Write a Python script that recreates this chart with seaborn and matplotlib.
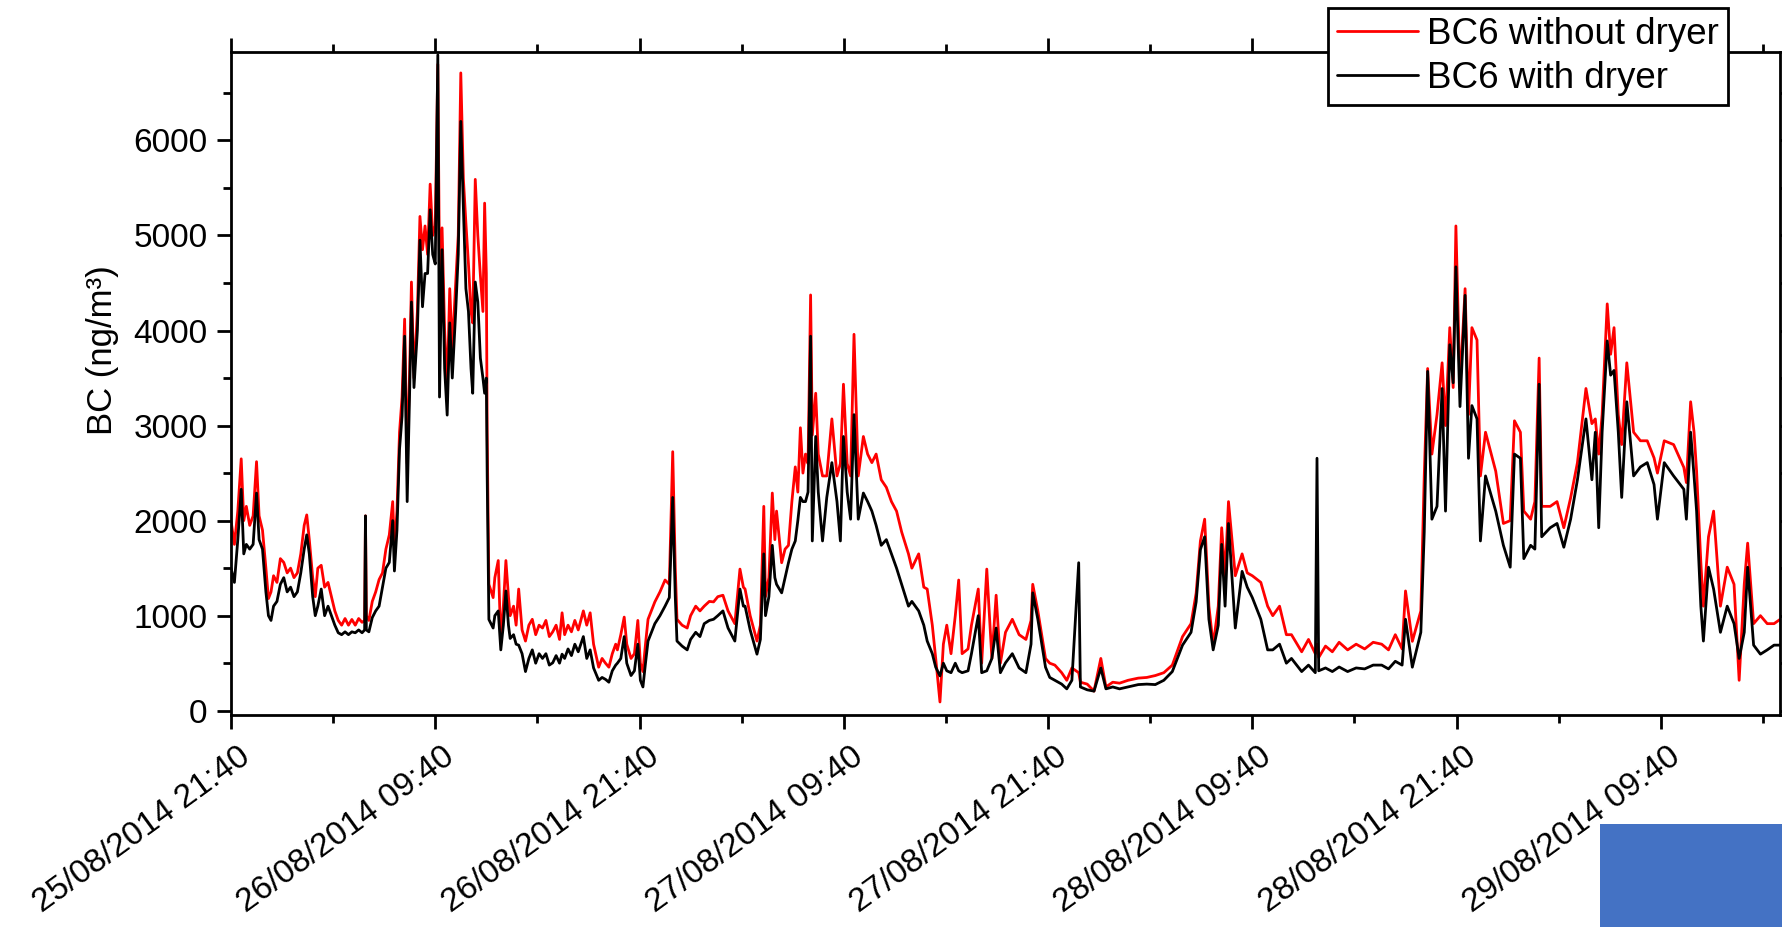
import numpy as np
import pandas as pd
import matplotlib
matplotlib.use("Agg")
import matplotlib.pyplot as plt
import matplotlib.dates as mdates
import matplotlib.transforms as mtransforms
from matplotlib.patches import Rectangle
from matplotlib.lines import Line2D
from matplotlib.ticker import MultipleLocator, FixedLocator, FixedFormatter
import seaborn as sns

# ---------------- data ----------------
start_time = "2014-08-25 21:40"

hours = [
    0.0, 0.2, 0.4, 0.6, 0.75, 0.9, 1.1, 1.3, 1.5, 1.65, 1.85, 2.05, 2.2, 2.35, 2.5, 2.7, 2.9, 3.1, 3.3, 3.5,
    3.7, 3.9, 4.1, 4.3, 4.45, 4.6, 4.8, 4.95, 5.1, 5.3, 5.5, 5.7, 5.9, 6.1, 6.3, 6.5, 6.7, 6.9, 7.1, 7.3,
    7.5, 7.7, 7.85, 7.9, 7.95, 8.1, 8.3, 8.5, 8.7, 8.9, 9.1, 9.3, 9.5, 9.6, 9.75, 9.9, 10.05, 10.2, 10.35, 10.5,
    10.6, 10.75, 10.95, 11.1, 11.25, 11.4, 11.55, 11.7, 11.85, 12.0, 12.15, 12.25, 12.4, 12.55, 12.7, 12.85, 13.0, 13.2, 13.35, 13.5,
    13.65, 13.8, 13.95, 14.1, 14.2, 14.35, 14.5, 14.65, 14.8, 14.9, 15.0, 15.05, 15.15,
    15.4, 15.5, 15.7, 15.85, 16.0, 16.15, 16.3, 16.4, 16.6, 16.75, 16.9, 17.1, 17.3, 17.5, 17.7, 17.9, 18.1, 18.3, 18.5, 18.7,
    18.9, 19.1, 19.3, 19.45, 19.6, 19.8, 20.0, 20.2, 20.4, 20.7, 20.9, 21.1, 21.3, 21.6, 21.8, 22.0, 22.2, 22.4, 22.6, 22.7,
    22.9, 23.1, 23.25, 23.5, 23.7, 23.9, 24.05, 24.2, 24.35, 24.5, 24.9, 25.2, 25.5, 25.75, 25.95, 26.1, 26.2, 26.5, 26.8, 27.0,
    27.3, 27.55, 27.8, 28.1, 28.35, 28.6, 28.9, 29.2, 29.6, 29.9, 30.1,
    30.2, 30.5, 30.9, 31.1, 31.3, 31.4, 31.6, 31.8, 31.95, 32.05, 32.35, 32.55, 32.75, 32.95, 33.15, 33.3, 33.45, 33.6, 33.75, 33.9,
    34.05, 34.15, 34.35, 34.5, 34.75, 35.0, 35.3, 35.6, 35.8, 35.98, 36.2, 36.4, 36.6, 36.85, 37.15, 37.4, 37.65, 37.9, 38.2, 38.5,
    38.8, 39.1, 39.4, 39.8, 40.0, 40.4, 40.7, 40.9, 41.2, 41.4, 41.65, 41.85, 42.05, 42.3, 42.55, 42.75, 42.95, 43.3, 43.5, 43.9,
    44.1, 44.4, 44.7, 44.95, 45.2,
    45.5, 45.9, 46.3, 46.7, 47.0, 47.1, 47.4, 47.85, 48.1, 48.4, 48.8, 49.1, 49.4, 49.8, 49.9, 50.3, 50.7, 51.1, 51.4, 51.8,
    52.2, 52.7, 53.3, 53.8, 54.3, 54.8, 55.3, 55.9, 56.4, 56.7, 56.95, 57.2, 57.45, 57.7, 58.0, 58.2, 58.4, 58.6, 59.0, 59.4,
    59.7, 60.0, 60.5, 60.9,
    61.2, 61.6, 62.0, 62.3, 62.9, 63.3, 63.7, 63.8, 63.9, 64.3, 64.7, 65.1, 65.6, 66.1, 66.6, 67.1, 67.6, 68.0, 68.4, 68.8,
    69.0, 69.4, 69.9, 70.1, 70.3, 70.55, 70.85, 71.15, 71.35, 71.6, 71.8, 71.96, 72.2, 72.5, 72.7, 72.9, 73.2, 73.4, 73.7, 74.3,
    74.75, 75.15, 75.4, 75.75,
    75.95, 76.35, 76.6, 76.85, 77.0, 77.5, 77.9, 78.3, 78.7, 79.1, 79.6, 79.95, 80.15, 80.35, 80.55, 80.85, 81.05, 81.25, 81.5, 81.7,
    82.0, 82.4, 82.8, 83.2, 83.6, 83.8, 84.2, 84.75, 85.35, 85.5, 85.75, 85.95, 86.1, 86.35, 86.5, 86.8, 87.1, 87.5, 87.9, 88.3,
    88.6, 88.9, 89.1, 89.45, 89.85, 90.25, 90.65, 91.0,
]

bc6_without_dryer = [
    2000, 1750, 2100, 2650, 2000, 2150, 1950, 2050, 2620, 2050, 1900, 1500, 1180, 1250, 1420, 1350, 1600, 1560, 1450, 1500,
    1400, 1450, 1650, 1950, 2060, 1800, 1400, 1200, 1500, 1530, 1300, 1350, 1200, 1050, 950, 900, 970, 900, 960, 900,
    970, 930, 950, 2050, 1000, 950, 1150, 1250, 1380, 1450, 1700, 1850, 2200, 1700, 2100, 2930, 3300, 4120, 2600, 3600,
    4510, 3500, 4200, 5200, 4850, 5100, 4800, 5540, 5000, 5100, 6800, 4600, 5080, 4000, 3390, 4440, 3800, 4500, 5000, 6710,
    5600, 5130, 4700, 4200, 4080, 5590, 5000, 4580, 4200, 5340, 4600, 2930, 1330,
    1190, 1400, 1580, 730, 1100, 1580, 1200, 1000, 1100, 900, 1280, 850, 733, 900, 962, 800, 900, 870, 950, 780,
    830, 900, 750, 1030, 800, 900, 830, 950, 850, 1050, 900, 1030, 700, 458, 550, 500, 458, 600, 700, 640,
    800, 985, 700, 550, 600, 950, 500, 412, 700, 962, 1145, 1250, 1375, 1330, 2725, 1500, 962, 900, 870, 1000,
    1100, 1050, 1100, 1150, 1145, 1200, 1215, 1050, 916, 1490, 1300,
    1280, 1000, 733, 900, 2150, 1200, 1400, 2290, 1800, 2100, 1557, 1700, 1740, 2200, 2565, 2300, 2977, 2500, 2700, 2600,
    4374, 2900, 3340, 2700, 2470, 2470, 3070, 2470, 2600, 3435, 2600, 2470, 3960, 2470, 2885, 2700, 2610, 2700, 2430, 2350,
    2200, 2100, 1880, 1650, 1500, 1650, 1300, 1280, 900, 550, 92, 700, 900, 600, 1000, 1375, 600, 650, 900, 1280,
    500, 1490, 550, 1215, 500,
    825, 962, 800, 750, 950, 1330, 1050, 550, 500, 480, 400, 320, 450, 400, 300, 280, 206, 550, 250, 300,
    290, 320, 343, 350, 370, 400, 480, 780, 916, 1237, 1786, 2015, 1100, 690, 1100, 1925, 1420, 2200, 1420, 1650,
    1450, 1420, 1350, 1100,
    1000, 1100, 800, 800, 620, 750, 600, 700, 560, 680, 620, 720, 640, 700, 650, 720, 700, 640, 800, 650,
    1260, 730, 1050, 2470, 3600, 2700, 3115, 3660, 3000, 4030, 3400, 5100, 3400, 4440, 3115, 4030, 3900, 2470, 2930, 2520,
    1970, 2000, 3050, 2930,
    2100, 2015, 2200, 3710, 2150, 2150, 2200, 1925, 2240, 2610, 3390, 3020, 3070, 2700, 3115, 4280, 3750, 4030, 3115, 2800,
    3660, 2930, 2840, 2840, 2660, 2500, 2840, 2800, 2560, 2400, 3250, 2930, 2520, 1557, 1100, 1830, 2100, 1100, 1510, 1330,
    320, 1330, 1763, 916, 1000, 916, 916, 960,
]

bc6_with_dryer = [
    1500, 1350, 1800, 2330, 1650, 1750, 1700, 1750, 2290, 1800, 1700, 1250, 1000, 950, 1100, 1150, 1330, 1400, 1250, 1300,
    1200, 1250, 1450, 1700, 1850, 1650, 1200, 1000, 1100, 1280, 1000, 1100, 1000, 900, 820, 800, 830, 800, 830, 820,
    850, 820, 850, 2050, 850, 830, 980, 1050, 1100, 1300, 1500, 1560, 2000, 1470, 1900, 2750, 3100, 3940, 2200, 3400,
    4300, 3400, 4000, 4950, 4250, 4600, 4600, 5270, 4800, 4700, 6900, 3300, 4850, 3600, 3110, 4080, 3500, 4200, 4800, 6200,
    5300, 4440, 4200, 3600, 3340, 4510, 4300, 3710, 3500, 3340, 3500, 2470, 960,
    870, 1000, 1050, 640, 900, 1260, 900, 760, 800, 700, 690, 600, 412, 550, 640, 500, 600, 550, 600, 480,
    504, 580, 500, 595, 550, 650, 580, 700, 620, 780, 550, 640, 450, 320, 350, 330, 300, 420, 480, 500,
    550, 780, 500, 370, 420, 700, 320, 250, 500, 733, 916, 1000, 1100, 1190, 2244, 1200, 733, 680, 640, 750,
    825, 780, 916, 950, 962, 1000, 1050, 870, 733, 1280, 1100,
    1100, 850, 595, 750, 1650, 1000, 1200, 1740, 1400, 1330, 1240, 1400, 1557, 1700, 1786, 2000, 2244, 2200, 2200, 2300,
    3940, 1786, 2885, 2300, 1786, 2244, 2610, 2200, 1786, 2885, 2300, 2015, 3115, 2015, 2290, 2200, 2100, 1950, 1740, 1800,
    1650, 1500, 1330, 1100, 1150, 1050, 900, 733, 600, 458, 366, 500, 420, 400, 500, 420, 400, 420, 600, 1000,
    400, 420, 550, 870, 400,
    504, 600, 450, 400, 700, 1240, 962, 458, 350, 320, 280, 230, 320, 1557, 250, 220, 206, 450, 230, 250,
    230, 250, 275, 280, 275, 320, 412, 690, 825, 1145, 1695, 1830, 962, 640, 900, 1750, 1100, 1970, 870, 1466,
    1300, 1190, 962, 640,
    640, 700, 500, 550, 412, 480, 400, 2656, 420, 450, 412, 460, 412, 450, 440, 480, 480, 440, 520, 480,
    962, 458, 825, 1880, 3570, 2015, 2150, 3390, 2100, 3850, 3450, 4670, 3200, 4370, 2656, 3210, 3070, 1786, 2470, 2100,
    1740, 1510, 2700, 2656,
    1600, 1740, 1700, 3435, 1830, 1925, 1970, 1720, 2015, 2430, 3070, 2430, 2930, 1925, 2930, 3890, 3530, 3580, 2930, 2244,
    3250, 2470, 2565, 2610, 2380, 2015, 2610, 2470, 2330, 2015, 2930, 2470, 2100, 1100, 733, 1510, 1280, 825, 1100, 916,
    550, 825, 1510, 690, 595, 640, 690, 690,
]

series_names = ["BC6 without dryer", "BC6 with dryer"]
series_colors = ["#FF0000", "#000000"]

x_tick_labels = [
    "25/08/2014 21:40", "26/08/2014 09:40", "26/08/2014 21:40", "27/08/2014 09:40",
    "27/08/2014 21:40", "28/08/2014 09:40", "28/08/2014 21:40", "29/08/2014 09:40",
]
y_label = "BC (ng/m³)"

# ---------------- figure ----------------
sns.set_theme(style="ticks", rc={
    "axes.edgecolor": "black", "text.color": "black", "axes.labelcolor": "black",
    "xtick.color": "black", "ytick.color": "black",
})
plt.rcParams["font.family"] = ["Liberation Sans", "DejaVu Sans"]

start = pd.Timestamp(start_time)
n = len(hours)
times = start + pd.to_timedelta(np.asarray(hours, dtype=float), unit="h")
df = pd.DataFrame({
    "time": np.concatenate([times.values, times.values]),
    "BC": np.concatenate([bc6_without_dryer, bc6_with_dryer]),
    "series": [series_names[0]] * n + [series_names[1]] * n,
})

W, H = 1782, 927
fig = plt.figure(figsize=(W / 100, H / 100), dpi=100)
ax = fig.add_axes([231 / W, 1 - 715 / H, 1549 / W, 663 / H])

sns.lineplot(data=df, x="time", y="BC", hue="series", hue_order=series_names,
             palette=dict(zip(series_names, series_colors)), estimator=None,
             sort=False, linewidth=2.0, legend=False, ax=ax)

major_times = [start + pd.Timedelta(hours=12 * k) for k in range(len(x_tick_labels))]
minor_times = [start + pd.Timedelta(hours=6 * k) for k in range(16)]
ax.xaxis.set_major_locator(FixedLocator(mdates.date2num(major_times)))
ax.xaxis.set_major_formatter(FixedFormatter(x_tick_labels))
ax.xaxis.set_minor_locator(FixedLocator(mdates.date2num(minor_times)))
ax.set_xlim(mdates.date2num(start), mdates.date2num(start + pd.Timedelta(hours=91)))

ax.set_ylim(-45, 6930)
ax.yaxis.set_major_locator(MultipleLocator(1000))
ax.yaxis.set_minor_locator(MultipleLocator(500))

for s in ax.spines.values():
    s.set_visible(True)
    s.set_linewidth(2.0)
    s.set_color("black")

ax.tick_params(which="both", direction="out", width=2.0, top=True, right=True,
               labeltop=False, labelright=False, color="black")
ax.tick_params(which="major", length=10, pad=7, labelsize=24)
ax.tick_params(which="minor", length=6)
ax.tick_params(axis="x", which="major", pad=9, labelsize=24)

shift = mtransforms.ScaledTranslation(0.07, 0, fig.dpi_scale_trans)
for lab in ax.get_xticklabels():
    lab.set_rotation(36)
    lab.set_ha("right")
    lab.set_va("top")
    lab.set_rotation_mode("anchor")
    lab.set_transform(lab.get_transform() + shift)

ax.set_xlabel("")
ax.set_ylabel(y_label, fontsize=25)
ax.yaxis.set_label_coords(-0.072, 0.55)

handles = [Line2D([], [], color=c, linewidth=2) for c in series_colors]
leg = fig.legend(handles, series_names, loc="upper left",
                 bbox_to_anchor=(1328 / W, 1 - 8 / H), bbox_transform=fig.transFigure,
                 fontsize=26.5, frameon=True, fancybox=False, framealpha=1,
                 edgecolor="black", borderpad=0.25, labelspacing=0.24,
                 handlelength=2.2, handletextpad=0.25, borderaxespad=0)
leg.get_frame().set_linewidth(2.0)

fig.patches.append(Rectangle((1600 / W, 0), (W - 1600) / W, (H - 824) / H,
                             transform=fig.transFigure, facecolor="#4472C4",
                             edgecolor="none", zorder=10))

fig.savefig("out.png", dpi=100)
